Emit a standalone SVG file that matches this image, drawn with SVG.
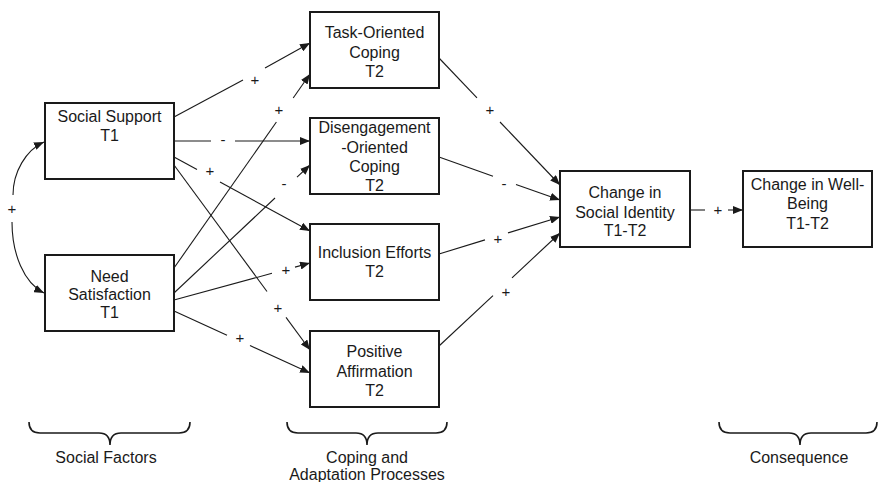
<svg xmlns="http://www.w3.org/2000/svg" width="878" height="482" viewBox="0 0 878 482">
  <style>
    .box { fill: #ffffff; stroke: #1a1a1a; stroke-width: 2; }
    .txt { font-family: "Liberation Sans", Arial, sans-serif; font-size: 16px; fill: #1a1a1a; text-anchor: middle; }
    .lbl { font-family: "Liberation Sans", Arial, sans-serif; font-size: 15px; fill: #1a1a1a; text-anchor: middle; }
    .ln { fill: none; stroke: #1a1a1a; stroke-width: 1.1; }
    .arr { marker-end: url(#head); }
    .brace { fill: none; stroke: #1a1a1a; stroke-width: 1.6; }
  </style>
  <defs>
    <marker id="head" markerUnits="userSpaceOnUse" viewBox="0 0 10 8" refX="10" refY="4" markerWidth="10" markerHeight="8" orient="auto">
      <path d="M0,0 L10,4 L0,8 z" fill="#1a1a1a"/>
    </marker>
  </defs>

  <rect width="878" height="482" fill="#ffffff"/>

  <!-- connectors: each path is split around its sign label -->
  <g id="connectors">
    <!-- correlation between the two social factors -->
    <path class="ln arr" d="M13,195 C13,172 26,150 44,142"/>
    <path class="ln arr" d="M12,222 C12,254 24,283 44,293"/>
    <text class="lbl" x="12" y="214">+</text>

    <!-- Social Support -> Task-Oriented Coping -->
    <line class="ln" x1="174" y1="117" x2="243" y2="80"/>
    <line class="ln arr" x1="265" y1="68" x2="310" y2="43"/>
    <text class="lbl" x="255" y="85">+</text>

    <!-- Social Support -> Disengagement -->
    <line class="ln" x1="174" y1="141" x2="211" y2="141"/>
    <line class="ln arr" x1="235" y1="141" x2="310" y2="141"/>
    <text class="lbl" x="223" y="145">-</text>

    <!-- Social Support -> Inclusion Efforts -->
    <line class="ln" x1="174" y1="157" x2="197" y2="169.5"/>
    <line class="ln arr" x1="220" y1="182" x2="310" y2="231"/>
    <text class="lbl" x="210" y="176">+</text>

    <!-- Social Support -> Positive Affirmation -->
    <line class="ln" x1="174" y1="165" x2="267" y2="291.5"/>
    <line class="ln arr" x1="286" y1="317.4" x2="310" y2="350"/>
    <text class="lbl" x="278" y="313">+</text>

    <!-- Need Satisfaction -> Task-Oriented Coping -->
    <line class="ln" x1="174" y1="268" x2="276.4" y2="122"/>
    <line class="ln arr" x1="293.2" y1="98" x2="310" y2="74"/>
    <text class="lbl" x="279" y="115">+</text>

    <!-- Need Satisfaction -> Disengagement -->
    <line class="ln" x1="174" y1="293" x2="275" y2="198"/>
    <line class="ln arr" x1="297" y1="177.2" x2="310" y2="165"/>
    <text class="lbl" x="284" y="189">-</text>

    <!-- Need Satisfaction -> Inclusion Efforts -->
    <line class="ln" x1="174" y1="300" x2="272" y2="273.3"/>
    <line class="ln arr" x1="295" y1="267.1" x2="310" y2="263"/>
    <text class="lbl" x="286" y="275">+</text>

    <!-- Need Satisfaction -> Positive Affirmation -->
    <line class="ln" x1="174" y1="311" x2="227" y2="335.2"/>
    <line class="ln arr" x1="250" y1="345.6" x2="310" y2="373"/>
    <text class="lbl" x="240" y="343">+</text>

    <!-- Task-Oriented Coping -> Change in Social Identity -->
    <line class="ln" x1="439" y1="58" x2="477" y2="97.9"/>
    <line class="ln arr" x1="500" y1="122" x2="560" y2="185"/>
    <text class="lbl" x="490" y="115">+</text>

    <!-- Disengagement -> Change in Social Identity -->
    <line class="ln" x1="439" y1="157" x2="493" y2="176.2"/>
    <line class="ln arr" x1="516" y1="184.4" x2="560" y2="200"/>
    <text class="lbl" x="504" y="189">-</text>

    <!-- Inclusion Efforts -> Change in Social Identity -->
    <line class="ln" x1="439" y1="254" x2="485" y2="239.9"/>
    <line class="ln arr" x1="508" y1="232.9" x2="560" y2="217"/>
    <text class="lbl" x="498" y="244">+</text>

    <!-- Positive Affirmation -> Change in Social Identity -->
    <line class="ln" x1="439" y1="346" x2="493" y2="295.6"/>
    <line class="ln arr" x1="512" y1="277.8" x2="560" y2="233"/>
    <text class="lbl" x="506" y="297">+</text>

    <!-- Change in Social Identity -> Change in Well-Being -->
    <line class="ln" x1="690" y1="210" x2="705" y2="210"/>
    <line class="ln arr" x1="728" y1="210" x2="743" y2="210"/>
    <text class="lbl" x="718" y="215">+</text>
  </g>

  <!-- social factors -->
  <g id="social-support">
    <rect class="box" x="45" y="103" width="129" height="76"/>
    <text class="txt" x="109.5" y="122">Social Support</text>
    <text class="txt" x="109.5" y="141">T1</text>
  </g>
  <g id="need-satisfaction">
    <rect class="box" x="45" y="255" width="129" height="76"/>
    <text class="txt" x="109.5" y="282">Need</text>
    <text class="txt" x="109.5" y="300">Satisfaction</text>
    <text class="txt" x="109.5" y="318">T1</text>
  </g>

  <!-- coping and adaptation processes -->
  <g id="task-oriented-coping">
    <rect class="box" x="310" y="12" width="129" height="76"/>
    <text class="txt" x="374.5" y="38">Task-Oriented</text>
    <text class="txt" x="374.5" y="58">Coping</text>
    <text class="txt" x="374.5" y="77">T2</text>
  </g>
  <g id="disengagement-coping">
    <rect class="box" x="310" y="118" width="129" height="76"/>
    <text class="txt" x="374.5" y="133">Disengagement</text>
    <text class="txt" x="374.5" y="153">-Oriented</text>
    <text class="txt" x="374.5" y="172">Coping</text>
    <text class="txt" x="374.5" y="191">T2</text>
  </g>
  <g id="inclusion-efforts">
    <rect class="box" x="310" y="224" width="129" height="76"/>
    <text class="txt" x="374.5" y="258">Inclusion Efforts</text>
    <text class="txt" x="374.5" y="277">T2</text>
  </g>
  <g id="positive-affirmation">
    <rect class="box" x="310" y="331" width="129" height="76"/>
    <text class="txt" x="374.5" y="357">Positive</text>
    <text class="txt" x="374.5" y="377">Affirmation</text>
    <text class="txt" x="374.5" y="396">T2</text>
  </g>

  <!-- outcomes -->
  <g id="change-social-identity">
    <rect class="box" x="560" y="171" width="130" height="76"/>
    <text class="txt" x="625" y="198">Change in</text>
    <text class="txt" x="625" y="218">Social Identity</text>
    <text class="txt" x="625" y="236">T1-T2</text>
  </g>
  <g id="change-well-being">
    <rect class="box" x="743" y="171" width="129" height="76"/>
    <text class="txt" x="807.5" y="190">Change in Well-</text>
    <text class="txt" x="807.5" y="209">Being</text>
    <text class="txt" x="807.5" y="229">T1-T2</text>
  </g>

  <!-- stage braces and captions -->
  <g id="stage-social-factors">
    <path class="brace" d="M29,422 Q29,433 40,433 L99,433 Q110,433 110,445 Q110,433 121,433 L179,433 Q190,433 190,422"/>
    <text class="txt" x="106" y="463">Social Factors</text>
  </g>
  <g id="stage-coping">
    <path class="brace" d="M287,422 Q287,433 298,433 L356,433 Q367,433 367,445 Q367,433 378,433 L436,433 Q447,433 447,422"/>
    <text class="txt" x="367" y="463">Coping and</text>
    <text class="txt" x="367" y="480">Adaptation Processes</text>
  </g>
  <g id="stage-consequence">
    <path class="brace" d="M719,422 Q719,433 730,433 L789,433 Q800,433 800,445 Q800,433 811,433 L866,433 Q877,433 877,422"/>
    <text class="txt" x="799" y="463">Consequence</text>
  </g>
</svg>
